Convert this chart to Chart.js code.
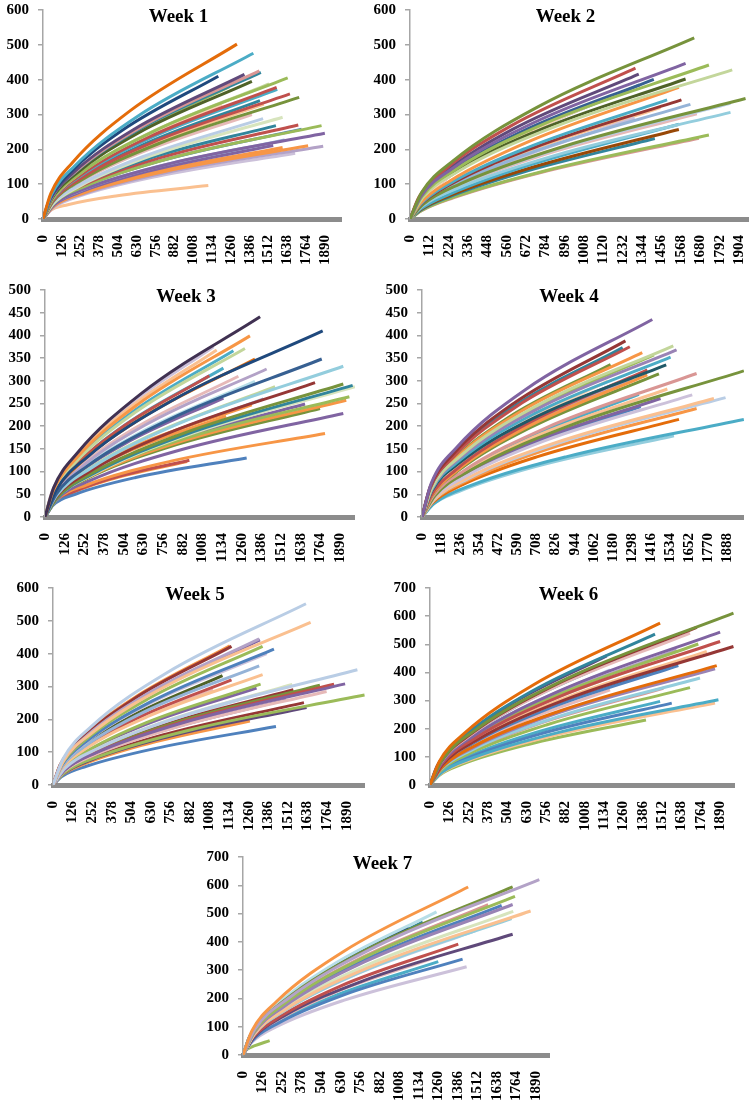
<!DOCTYPE html>
<html lang="en">
<head>
<meta charset="UTF-8">
<title>Rarefaction curves, weeks 1-7</title>
<script src="https://cdn.jsdelivr.net/npm/chart.js"></script>
<style>
  body { margin: 0; background: #fff; width: 754px; height: 1101px; position: relative; overflow: hidden; }
  canvas { position: absolute; }
</style>
</head>
<body>
<canvas id="week1"></canvas>
<canvas id="week2"></canvas>
<canvas id="week3"></canvas>
<canvas id="week4"></canvas>
<canvas id="week5"></canvas>
<canvas id="week6"></canvas>
<canvas id="week7"></canvas>

<script>
// where along each curve the richness was read (share of that curve's reads)
const readFractions = [0, 0.04, 0.15, 0.45, 1];

// one row per curve: [reads at curve end, richness at 4%, 15%, 45%, richness at end]
const week1Curves = [
  [1300, 73, 161, 311, 502], [1410, 69, 152, 295, 476], [1175, 59, 131, 254, 410],
  [1350, 60, 133, 257, 415], [1450, 62, 136, 263, 425], [1460, 61, 135, 261, 421],
  [1400, 57, 126, 245, 395], [1640, 59, 130, 251, 405], [1515, 56, 124, 240, 388],
  [1566, 55, 121, 234, 378], [1570, 54, 119, 230, 372], [1655, 52, 115, 222, 359],
  [1717, 51, 112, 216, 349], [1454, 49, 109, 210, 340], [1480, 48, 106, 204, 330],
  [1475, 42, 92, 178, 288], [1606, 42, 93, 181, 292], [1561, 46, 94, 173, 268],
  [1711, 46, 95, 174, 270], [1867, 46, 94, 173, 268], [1733, 44, 91, 166, 258],
  [1889, 42, 87, 159, 246], [1620, 39, 80, 146, 227], [1543, 36, 74, 136, 211],
  [1777, 36, 74, 135, 210], [1606, 35, 72, 132, 205], [1878, 36, 74, 135, 209],
  [1690, 32, 67, 122, 189], [1108, 23, 41, 67, 96], [1110, 52, 116, 224, 362],
  [1290, 57, 125, 243, 392], [1250, 55, 122, 235, 380], [1380, 34, 70, 129, 200],
  [1200, 48, 106, 204, 330], [1400, 44, 96, 186, 300]
];
const week2Curves = [
  [1645, 75, 166, 322, 520], [1595, 65, 143, 277, 447], [1730, 64, 141, 274, 442],
  [1865, 62, 137, 265, 428], [1305, 63, 139, 268, 433], [1324, 60, 133, 258, 416],
  [1411, 58, 128, 248, 401], [1595, 58, 129, 249, 402], [1556, 46, 110, 225, 378],
  [1488, 42, 100, 203, 342], [1571, 42, 100, 203, 342], [1942, 43, 101, 206, 346],
  [1623, 40, 96, 196, 329], [1855, 41, 97, 198, 332], [1855, 38, 89, 182, 306],
  [1660, 37, 88, 180, 302], [1556, 29, 72, 156, 272], [1556, 27, 68, 147, 257],
  [1417, 24, 61, 132, 231], [1730, 25, 64, 138, 241], [1672, 24, 61, 133, 232],
  [1300, 30, 77, 166, 290], [1100, 42, 99, 202, 340], [1200, 44, 105, 214, 360],
  [1330, 47, 112, 229, 385], [1450, 39, 93, 190, 320], [1250, 32, 80, 172, 300]
];
const week3Curves = [
  [1378, 64, 141, 273, 441], [1313, 58, 128, 247, 399], [1779, 59, 131, 254, 410],
  [1281, 54, 119, 230, 371], [1207, 53, 117, 227, 366], [1100, 53, 118, 228, 368],
  [1080, 54, 120, 232, 375], [1345, 50, 111, 215, 348], [1773, 50, 111, 215, 348],
  [1911, 48, 106, 206, 332], [1420, 47, 104, 202, 326], [1053, 45, 100, 193, 311],
  [1239, 45, 99, 192, 310], [1143, 48, 105, 203, 328], [1345, 43, 96, 185, 299],
  [1730, 43, 95, 183, 296], [1911, 42, 94, 181, 293], [1971, 42, 93, 180, 290],
  [1985, 42, 92, 178, 287], [1474, 42, 92, 178, 287], [1950, 45, 93, 171, 265],
  [1666, 42, 88, 161, 249], [1930, 44, 90, 166, 257], [1762, 41, 84, 154, 239],
  [1911, 39, 80, 147, 228], [1794, 37, 71, 123, 184], [1292, 26, 50, 87, 130],
  [925, 25, 48, 84, 125], [910, 24, 47, 82, 122], [1325, 42, 87, 159, 247],
  [1143, 38, 84, 162, 262], [1160, 38, 78, 143, 222], [1400, 38, 83, 161, 260]
];
const week4Curves = [
  [1424, 74, 153, 281, 435], [1258, 66, 137, 250, 388], [1285, 64, 132, 242, 375],
  [1241, 63, 131, 241, 373], [1554, 64, 133, 243, 377], [1574, 63, 130, 237, 368],
  [1362, 62, 127, 233, 362], [1434, 61, 126, 230, 357], [1537, 60, 124, 227, 352],
  [1166, 57, 118, 217, 336], [1510, 57, 118, 216, 335], [1393, 47, 104, 201, 324],
  [1393, 45, 100, 194, 313], [1465, 46, 101, 195, 315], [1698, 46, 101, 196, 316],
  [1990, 47, 103, 199, 322], [1517, 41, 90, 175, 282], [1341, 39, 86, 167, 270],
  [1671, 39, 86, 167, 269], [1475, 38, 84, 162, 261], [1805, 38, 84, 162, 261],
  [1877, 38, 84, 163, 263], [1352, 35, 78, 150, 243], [1698, 35, 76, 148, 239],
  [1589, 31, 69, 133, 215], [1990, 31, 69, 133, 215], [1558, 26, 57, 111, 179],
  [1300, 44, 98, 189, 305], [1150, 44, 96, 186, 300]
];
const week5Curves = [
  [1628, 80, 177, 342, 552], [1658, 72, 158, 306, 495], [1327, 65, 142, 275, 445],
  [1332, 64, 141, 274, 442], [1149, 61, 135, 261, 422], [1138, 61, 136, 262, 424],
  [1349, 61, 135, 261, 422], [1422, 60, 132, 256, 414], [1375, 58, 128, 248, 400],
  [1327, 53, 116, 225, 363], [1091, 48, 107, 206, 333], [1349, 49, 108, 208, 336],
  [1149, 46, 102, 198, 320], [1959, 51, 112, 217, 351], [1336, 45, 98, 190, 307],
  [1880, 45, 99, 191, 308], [1809, 45, 98, 190, 307], [1540, 44, 98, 189, 306],
  [1718, 44, 97, 188, 304], [1310, 43, 94, 183, 295], [1547, 42, 93, 180, 290],
  [1761, 41, 91, 176, 285], [2005, 40, 88, 170, 274], [1615, 36, 80, 155, 251],
  [1632, 34, 76, 146, 236], [1267, 28, 62, 121, 195], [1435, 26, 57, 110, 178],
  [1031, 42, 93, 180, 290], [1200, 38, 83, 161, 260], [1500, 38, 83, 161, 260]
];
const week6Curves = [
  [1499, 83, 184, 356, 575], [1977, 89, 196, 378, 611], [1466, 78, 172, 332, 536],
  [1738, 81, 179, 347, 560], [1694, 78, 173, 334, 540], [1890, 79, 174, 336, 543],
  [1890, 74, 163, 316, 510], [1977, 71, 157, 305, 492], [1748, 73, 160, 310, 501],
  [1151, 67, 147, 284, 459], [1216, 65, 142, 275, 445], [1607, 70, 154, 297, 480],
  [1803, 69, 152, 294, 475], [1738, 66, 146, 283, 457], [1868, 61, 136, 262, 424],
  [1857, 60, 132, 256, 413], [1618, 61, 136, 262, 424], [1564, 61, 135, 261, 421],
  [1759, 55, 122, 235, 380], [1694, 50, 111, 214, 346], [1520, 50, 110, 213, 344],
  [1173, 49, 108, 209, 338], [1879, 44, 97, 188, 303], [1857, 42, 93, 180, 291],
  [1575, 42, 93, 180, 291], [1499, 43, 95, 184, 297], [1407, 33, 74, 143, 231],
  [1173, 59, 131, 253, 409], [1434, 63, 139, 268, 433], [1300, 55, 122, 235, 380]
];
const week7Curves = [
  [1453, 86, 190, 368, 594], [1912, 90, 198, 384, 620], [1740, 86, 190, 368, 594],
  [1755, 81, 180, 347, 561], [1249, 73, 162, 313, 506], [1740, 77, 170, 329, 532],
  [1669, 77, 169, 327, 529], [1582, 77, 170, 329, 532], [1856, 74, 163, 315, 509],
  [1744, 74, 163, 314, 508], [1733, 70, 154, 298, 482], [1066, 66, 145, 280, 453],
  [1389, 57, 125, 243, 392], [1740, 62, 137, 264, 427], [1417, 49, 108, 210, 339],
  [1238, 50, 110, 213, 344], [1260, 48, 106, 204, 330], [1443, 45, 100, 193, 312],
  [172, 10, 20, 33, 51], [1500, 64, 141, 272, 440], [1160, 68, 150, 291, 470],
  [1300, 68, 150, 291, 470]
];

const weekTitles = ['Week 1', 'Week 2', 'Week 3', 'Week 4', 'Week 5', 'Week 6', 'Week 7'];
const xTickSteps = [126, 112, 126, 118, 126, 126, 126];
const xMaxima = [2004, 1962, 1986, 1991, 2008, 1987, 1981];
const yMaxima = [600, 600, 500, 500, 600, 700, 700];
const yTickSteps = [100, 100, 50, 50, 100, 100, 100];

// line colours, one per curve (Office 2010 palette and its tints)
const week1Colors = ['#E46C0A','#4BACC6','#1F497D','#604A7B','#D99694','#31859C','#4F6228','#9BBB59','#C3D69B','#C0504D','#4BACC6','#C0504D','#77933C','#31859C','#FAC090','#B9CDE5','#D7E4BD','#31859C','#C0504D','#9BBB59','#4F81BD','#8064A2','#95B3D7','#8064A2','#F79646','#F79646','#B3A2C7','#CCC1DA','#FAC090','#8064A2','#B3A2C7','#9BBB59','#B7DEE8','#FCD5B5','#E6B9B8'];
const week2Colors = ['#77933C','#8064A2','#9BBB59','#C3D69B','#C0504D','#604A7B','#376092','#4F6228','#F79646','#4BACC6','#953735','#77933C','#95B3D7','#B9CDE5','#93CDDD','#E6B9B8','#4BACC6','#984807','#31859C','#9BBB59','#D99694','#CCC1DA','#FCD5B5','#B9CDE5','#4F81BD','#FAC090','#D7E4BD'];
const week3Colors = ['#403152','#F79646','#1F497D','#C3D69B','#4BACC6','#FAC090','#CCC1DA','#E46C0A','#376092','#93CDDD','#B3A2C7','#C0504D','#E6B9B8','#4BACC6','#B7DEE8','#953735','#77933C','#31859C','#D7E4BD','#C3D69B','#9BBB59','#8064A2','#F79646','#77933C','#8064A2','#F79646','#4F81BD','#C0504D','#F79646','#F79646','#8064A2','#F79646','#95B3D7'];
const week4Colors = ['#8064A2','#953735','#C0504D','#31859C','#C3D69B','#9983B5','#F79646','#9BBB59','#4BACC6','#77933C','#215968','#C0504D','#F79646','#77933C','#D99694','#77933C','#FAC090','#4BACC6','#CCC1DA','#8064A2','#FAC090','#B9CDE5','#4F81BD','#F79646','#E46C0A','#4BACC6','#93CDDD','#B3A2C7','#FCD5B5'];
const week5Colors = ['#B9CDE5','#FAC090','#B3A2C7','#8064A2','#953735','#F79646','#9BBB59','#4F81BD','#CCC1DA','#95B3D7','#4F6228','#FAC090','#C0504D','#B9CDE5','#9BBB59','#8064A2','#C0504D','#D7E4BD','#77933C','#8064A2','#953735','#E6B9B8','#9BBB59','#953735','#5F497A','#F79646','#4F81BD','#E6B9B8','#B7DEE8','#9983B5'];
const week6Colors = ['#E46C0A','#77933C','#31859C','#953735','#E6B9B8','#8064A2','#C0504D','#953735','#9BBB59','#5F497A','#4BACC6','#B3A2C7','#FAC090','#95B3D7','#E46C0A','#9983B5','#4F81BD','#376092','#93CDDD','#9BBB59','#D99694','#E6B9B8','#4BACC6','#FAC090','#4F81BD','#4BACC6','#9BBB59','#B9CDE5','#D7E4BD','#FCD5B5'];
const week7Colors = ['#F79646','#B3A2C7','#77933C','#9BBB59','#B7DEE8','#9983B5','#4F81BD','#D99694','#FAC090','#D7E4BD','#93CDDD','#1F497D','#C0504D','#5F497A','#4F81BD','#E6B9B8','#4BACC6','#CCC1DA','#9BBB59','#B9CDE5','#31859C','#FCD5B5'];

const allCurves = [week1Curves, week2Curves, week3Curves, week4Curves, week5Curves, week6Curves, week7Curves];
const allColors = [week1Colors, week2Colors, week3Colors, week4Colors, week5Colors, week6Colors, week7Colors];

// plot area of each panel on the page: left, right, top (max tick), bottom (zero)
const plotBoxes = [
  [43, 342, 10, 219], [410, 749, 10, 219],
  [45, 355, 290, 517], [422, 744, 290, 517],
  [53, 365, 588, 785], [430, 735, 588, 785],
  [243, 550, 857, 1055]
];

const yAxisWidth = 43;
const topGap = 10;        // canvas top to plot top
const xAxisHeight = 46;
const serif = '"Liberation Serif", "Times New Roman", serif';

// the week title sits inside the plot area, near its top
const weekTitle = {
  id: 'weekTitle',
  afterDraw(chart, args, opts) {
    const { ctx, chartArea } = chart;
    ctx.save();
    ctx.font = 'bold 19px ' + serif;
    ctx.fillStyle = '#000';
    ctx.textAlign = 'center';
    ctx.textBaseline = 'middle';
    ctx.fillText(opts.text, (chartArea.left + chartArea.right) / 2 - 14, chartArea.top + 7);
    ctx.restore();
  }
};

allCurves.forEach((curves, k) => {
  const [left, right, top, bottom] = plotBoxes[k];
  const canvas = document.getElementById('week' + (k + 1));
  const cLeft = left - yAxisWidth;
  const cTop = top - topGap;
  canvas.width = right - cLeft;
  canvas.height = bottom - cTop + xAxisHeight;
  canvas.style.left = cLeft + 'px';
  canvas.style.top = cTop + 'px';

  const step = xTickSteps[k];
  const datasets = curves.map((row, i) => ({
    data: readFractions.map((f, j) => ({ x: Math.round(row[0] * f), y: j === 0 ? 0 : row[j] })),
    borderColor: allColors[k][i],
    borderWidth: 3,
    pointRadius: 0,
    fill: false,
    cubicInterpolationMode: 'monotone'
  }));

  new Chart(canvas, {
    type: 'line',
    data: { datasets },
    options: {
      responsive: false,
      animation: false,
      devicePixelRatio: 1,
      layout: { padding: { top: topGap, right: 0, bottom: 0, left: 0 } },
      plugins: {
        legend: { display: false },
        tooltip: { enabled: false },
        weekTitle: { text: weekTitles[k] }
      },
      scales: {
        x: {
          type: 'linear',
          min: 0,
          max: xMaxima[k],
          grid: { display: false },
          border: { display: true, color: '#8C8C8C', width: 5 },
          ticks: {
            autoSkip: false,
            minRotation: 90,
            maxRotation: 90,
            padding: 8,
            color: '#000',
            font: { family: serif, size: 15, weight: 'bold' },
            callback: v => String(v)
          },
          afterBuildTicks: s => {
            const ticks = [];
            for (let v = 0; v <= s.max; v += step) ticks.push({ value: v });
            s.ticks = ticks;
          },
          afterFit: s => { s.height = xAxisHeight; s.paddingLeft = 0; s.paddingRight = 0; }
        },
        y: {
          min: 0,
          max: yMaxima[k],
          grid: { drawOnChartArea: false, drawTicks: true, tickLength: 5, color: '#A6A6A6', lineWidth: 1.5 },
          border: { display: true, color: '#A6A6A6', width: 1.5 },
          ticks: {
            stepSize: yTickSteps[k],
            padding: 9,
            color: '#000',
            font: { family: serif, size: 15, weight: 'bold' }
          },
          afterFit: s => { s.width = yAxisWidth; s.paddingTop = 0; s.paddingBottom = 0; }
        }
      }
    },
    plugins: [weekTitle]
  });
});
</script>
</body>
</html>
